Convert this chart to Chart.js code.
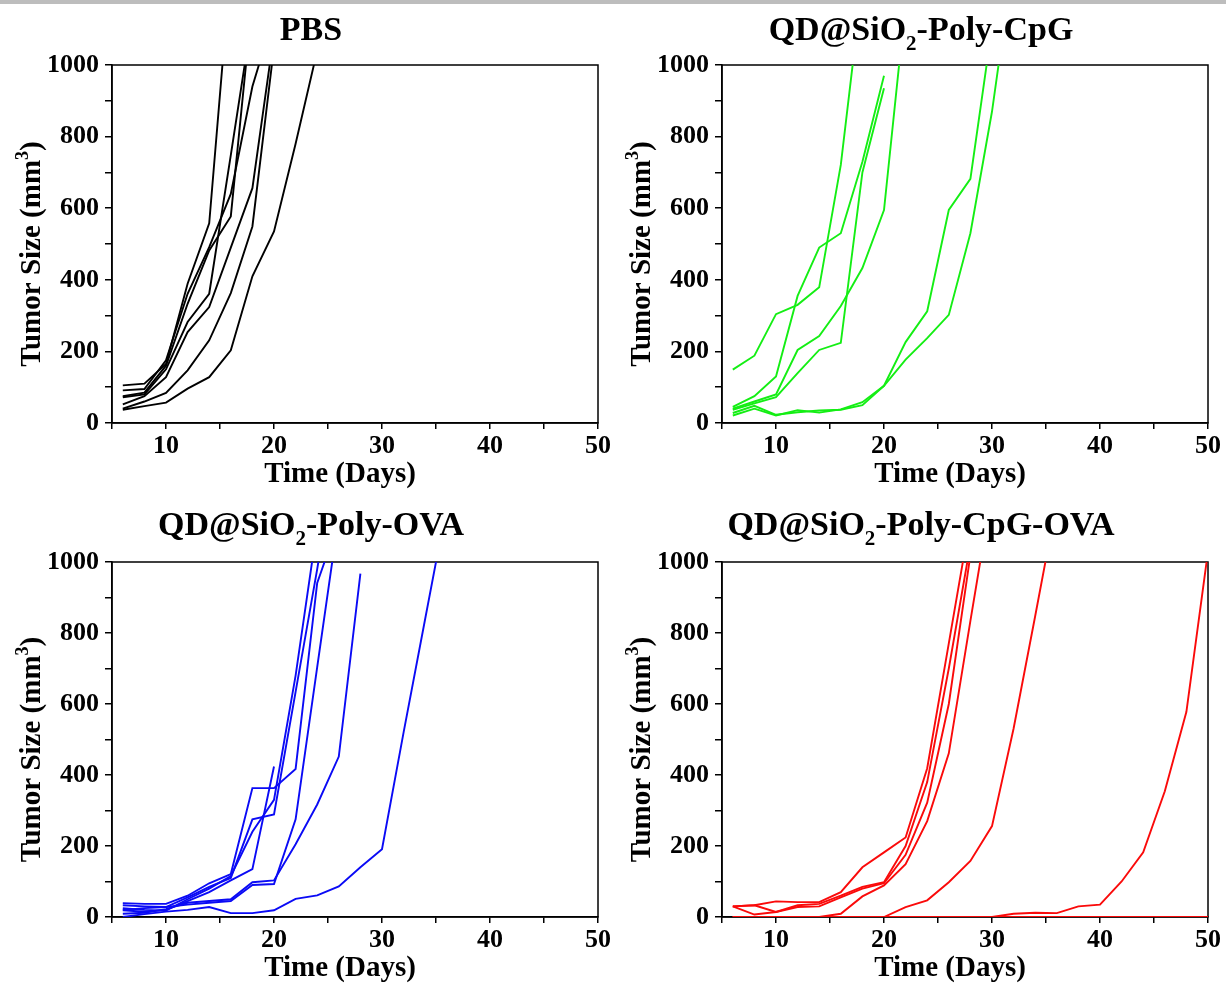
<!DOCTYPE html>
<html>
<head>
<meta charset="utf-8">
<script src="https://cdn.jsdelivr.net/npm/chart.js@4.4.1/dist/chart.umd.min.js"></script>
<style>
  body { margin: 0; background: #fff; width: 1226px; height: 987px; position: relative; overflow: hidden; }
  #bar { position: absolute; left: 0; top: 0; width: 1226px; height: 4px; background: #bdbdbd; }
  canvas { position: absolute; }
</style>
</head>
<body>
<div id="bar"></div>
<canvas id="c1" width="613" height="493" style="left:0;top:0"></canvas>
<canvas id="c2" width="613" height="493" style="left:610px;top:0"></canvas>
<canvas id="c3" width="613" height="490" style="left:0;top:497px"></canvas>
<canvas id="c4" width="613" height="490" style="left:610px;top:497px"></canvas>
<script>
// measurement days (every 2 days), each series below is aligned with this
const days = [6, 8, 10, 12, 14, 16, 18, 20, 22, 24, 26, 28, 30, 32, 34, 36, 38, 40, 42, 44, 46, 48, 50];

const xTicks = [10, 20, 30, 40, 50];
const yTicks = [0, 200, 400, 600, 800, 1000];

// PBS
const pbs1 = [105, 110, 165, 389, 558, 1280];
const pbs2 = [91, 95, 175, 361, 491, 640, 940, 1140];
const pbs3 = [75, 85, 160, 333, 482, 577, 1180];
const pbs4 = [72, 80, 150, 282, 361, 748, 1140];
const pbs5 = [52, 75, 128, 254, 324, 490, 656, 1086];
const pbs6 = [40, 60, 84, 147, 231, 363, 549, 1050];
const pbs7 = [37, 47, 57, 96, 128, 203, 410, 535, 780, 1040];

// QD@SiO2-Poly-CpG
const cpg1 = [149, 188, 304, 330, 379, 721, 1230];
const cpg2 = [45, 75, 130, 355, 490, 530, 730, 970];
const cpg3 = [40, 60, 80, 204, 243, 327, 433, 595, 1175];
const cpg4 = [37, 55, 72, 139, 204, 224, 700, 935];
const cpg5 = [21, 40, 21, 36, 29, 38, 58, 104, 226, 312, 595, 682, 1106];
const cpg6 = [28, 48, 23, 30, 35, 37, 50, 104, 177, 237, 302, 530, 870, 1300];

// QD@SiO2-Poly-OVA
const ova1 = [39, 37, 37, 60, 95, 121, 363, 363, 417, 941, 1115];
const ova2 = [33, 30, 28, 55, 85, 110, 275, 289, 634, 980, 1350];
const ova3 = [20, 25, 28, 35, 40, 45, 90, 93, 275, 704, 1130];
const ova4 = [19, 15, 20, 45, 70, 103, 135, 424];
const ova5 = [9, 12, 22, 40, 45, 50, 98, 103, 205, 317, 452, 967];
const ova6 = [0, 8, 15, 20, 28, 11, 11, 19, 51, 61, 86, 140, 191, 520, 840, 1160];
const ova7 = [25, 20, 18, 50, 80, 115, 240, 330, 680, 1100];

// QD@SiO2-Poly-CpG-OVA
const cpgova1 = [30, 33, 44, 42, 42, 70, 140, 182, 224, 419, 771, 1123];
const cpgova2 = [30, 7, 14, 33, 37, 60, 85, 98, 200, 380, 700, 1050];
const cpgova3 = [30, 33, 14, 28, 30, 55, 80, 95, 175, 322, 600, 1020];
const cpgova4 = [0, 0, 0, 0, 0, 9, 58, 89, 149, 270, 461, 834, 1200];
const cpgova5 = [0, 0, 0, 0, 0, 0, 0, 0, 28, 47, 98, 158, 256, 531, 848, 1170];
const cpgova6 = [0, 0, 0, 0, 0, 0, 0, 0, 0, 0, 0, 0, 0, 9, 12, 11, 30, 35, 100, 182, 354, 578, 1030];
const cpgova7 = [0, 0, 0, 0, 0, 0, 0, 0, 0, 0, 0, 0, 0, 0, 0, 0, 0, 0, 0, 0, 0, 0, 0];

const FONT = '"Liberation Serif", "Times New Roman", serif';

function toPoints(vals) {
    return vals.map((v, i) => ({ x: days[i], y: v }));
}

function partFont(p, size) {
    return 'bold ' + (p.s ? Math.round(size * 0.62) : size) + 'px ' + FONT;
}

function richWidth(ctx, parts, size) {
    let w = 0;
    parts.forEach(p => { ctx.font = partFont(p, size); w += ctx.measureText(p.t).width; });
    return w;
}

// text with sub/superscript pieces, centred on cx
function drawRich(ctx, parts, cx, baseY, size) {
    let x = cx - richWidth(ctx, parts, size) / 2;
    ctx.textAlign = 'left';
    ctx.textBaseline = 'alphabetic';
    ctx.fillStyle = '#000';
    parts.forEach(p => {
        ctx.font = partFont(p, size);
        let dy = 0;
        if (p.s === 'sub') dy = size * 0.28;
        if (p.s === 'sup') dy = -size * 0.40;
        ctx.fillText(p.t, x, baseY + dy);
        x += ctx.measureText(p.t).width;
    });
}

const panelText = {
    id: 'panelText',
    beforeDatasetsDraw(chart) {
        const a = chart.chartArea;
        const ctx = chart.ctx;
        ctx.save();
        ctx.strokeStyle = '#000';
        ctx.lineWidth = 1.5;
        ctx.strokeRect(a.left, a.top, a.right - a.left, a.bottom - a.top);
        ctx.restore();
    },
    afterDraw(chart, args, opts) {
        const a = chart.chartArea;
        const ctx = chart.ctx;
        ctx.save();
        drawRich(ctx, opts.title, 311, opts.titleY, 34);
        drawRich(ctx, [{ t: 'Time (Days)' }], (a.left + a.right) / 2 - 15, a.bottom + 59, 29);
        ctx.translate(40, (a.top + a.bottom) / 2 + 10);
        ctx.rotate(-Math.PI / 2);
        drawRich(ctx, [{ t: 'Tumor Size (mm' }, { t: '3', s: 'sup' }, { t: ')' }], 0, 0, 29);
        ctx.restore();
    }
};

function makePanel(id, title, titleY, series, color) {
    const ctx = document.getElementById(id).getContext('2d');
    return new Chart(ctx, {
        type: 'line',
        data: {
            datasets: series.map(s => ({
                data: toPoints(s),
                borderColor: color,
                borderWidth: 1.9,
                pointRadius: 0,
                fill: false,
                tension: 0
            }))
        },
        options: {
            responsive: false,
            animation: false,
            layout: { padding: { top: 65, right: 15, left: 0, bottom: 0 } },
            plugins: {
                legend: { display: false },
                tooltip: { enabled: false },
                panelText: { title: title, titleY: titleY }
            },
            scales: {
                x: {
                    type: 'linear',
                    min: 5,
                    max: 50,
                    ticks: {
                        stepSize: 5,
                        padding: 2,
                        color: '#000',
                        font: { family: FONT, weight: 'bold', size: 26 },
                        maxRotation: 0,
                        callback: v => xTicks.includes(v) ? v : ''
                    },
                    grid: { drawOnChartArea: false, tickLength: 6, color: '#000', lineWidth: 1.5 },
                    border: { color: '#000', width: 1.5 },
                    afterFit: s => { s.height = 70; }
                },
                y: {
                    min: 0,
                    max: 1000,
                    ticks: {
                        stepSize: 100,
                        padding: 6,
                        color: '#000',
                        font: { family: FONT, weight: 'bold', size: 26 },
                        callback: v => yTicks.includes(v) ? v : ''
                    },
                    grid: { drawOnChartArea: false, tickLength: 7, color: '#000', lineWidth: 1.5 },
                    border: { color: '#000', width: 1.5 },
                    afterFit: s => { s.width = 112; }
                }
            }
        },
        plugins: [panelText]
    });
}

makePanel('c1', [{ t: 'PBS' }], 40,
    [pbs1, pbs2, pbs3, pbs4, pbs5, pbs6, pbs7], '#000000');
makePanel('c2', [{ t: 'QD@SiO' }, { t: '2', s: 'sub' }, { t: '-Poly-CpG' }], 40,
    [cpg1, cpg2, cpg3, cpg4, cpg5, cpg6], '#14ee14');
makePanel('c3', [{ t: 'QD@SiO' }, { t: '2', s: 'sub' }, { t: '-Poly-OVA' }], 38,
    [ova1, ova2, ova3, ova4, ova5, ova6, ova7], '#0a0af5');
makePanel('c4', [{ t: 'QD@SiO' }, { t: '2', s: 'sub' }, { t: '-Poly-CpG-OVA' }], 38,
    [cpgova1, cpgova2, cpgova3, cpgova4, cpgova5, cpgova6, cpgova7], '#fa0a0a');
</script>
</body>
</html>
